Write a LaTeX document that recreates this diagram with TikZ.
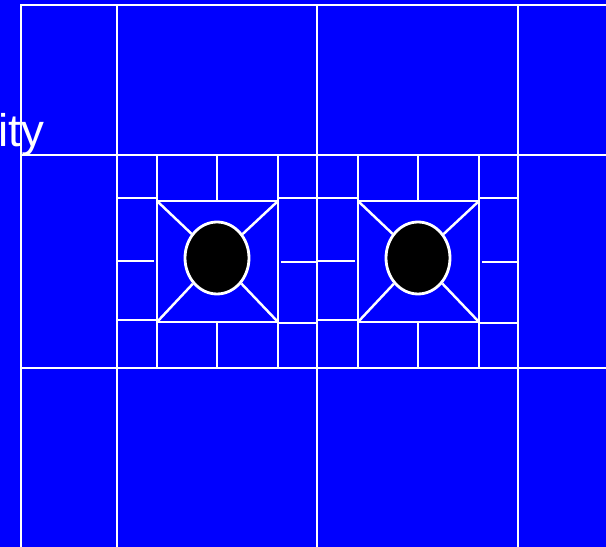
\documentclass[tikz,border=0pt]{standalone}
\usepackage{fontspec}
\setmainfont{Liberation Sans}
\usepackage{tikz}
\usetikzlibrary{shapes.geometric}
\definecolor{MeshBlue}{RGB}{0,0,255}
\definecolor{MeshLine}{RGB}{255,255,255}

\begin{document}
\begin{tikzpicture}[x=0.02cm, y=-0.02cm,
      edge/.style={draw=MeshLine, line width=1.4pt},
      hole/.style={ellipse, draw=MeshLine, fill=black, line width=1.6pt,
                   inner sep=0pt, minimum width=1.28cm, minimum height=1.44cm},
      lbl/.style={font=\fontsize{26}{30}\selectfont, text=MeshLine,
                  anchor=base west, inner sep=0pt}
    ]

    %--- background ---
    \fill[MeshBlue] (0,0) rectangle (606,547);
    \useasboundingbox (0,0) rectangle (606,547);

    %--- label ---
    \node[lbl] (name) at (-2,147) {ity};

    %--- outer grid ---
    \draw[edge] (21,547) -- (21,5) -- (606,5);
    \foreach \x in {117,317,518}
      \draw[edge] (\x,5) -- (\x,547);
    \foreach \y in {155,368}
      \draw[edge] (21,\y) -- (606,\y);

    %--- blocks round the two holes ---
    \foreach \i/\o in {1/0, 2/201} {
      \begin{scope}[shift={(\o,0)}]
        \draw[edge] (157,155) -- (157,368);
        \draw[edge] (278,155) -- (278,368);
        \draw[edge] (217,155) -- (217,201);
        \draw[edge] (217,322) -- (217,368);
        \draw[edge] (157,201) rectangle (278,322);
        % side columns
        \draw[edge] (117,198) -- (157,198) (117,261) -- (154,261)
                    (117,320) -- (157,320);
        \draw[edge] (278,198) -- (317,198) (281,262) -- (317,262)
                    (278,323) -- (317,323);
        % hole and spokes
        \node[hole] (hole\i) at (217,258) {};
        \coordinate (nw\i) at (157,201);
        \coordinate (ne\i) at (278,201);
        \coordinate (sw\i) at (157,322);
        \coordinate (se\i) at (278,322);
        \foreach \c in {nw,ne,sw,se}
          \draw[edge] (\c\i) -- (hole\i);
      \end{scope}
    }
  \end{tikzpicture}
\end{document}
